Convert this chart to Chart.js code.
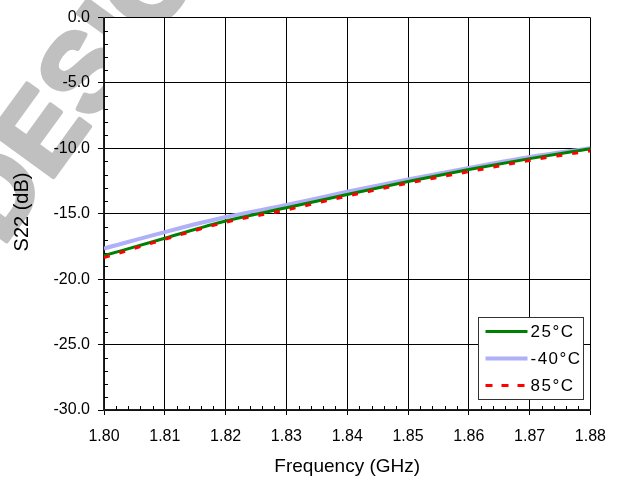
<!DOCTYPE html>
<html>
<head>
<meta charset="utf-8">
<script src="https://cdn.jsdelivr.net/npm/chart.js@4.4.1/dist/chart.umd.min.js"></script>
<style>
html,body{margin:0;padding:0;background:#fff;}
#wrap{position:relative;width:618px;height:479px;}
</style>
</head>
<body>
<div id="wrap"><canvas id="c" width="618" height="479"></canvas></div>
<script>
const freqGHz = [1.80, 1.81, 1.82, 1.83, 1.84, 1.85, 1.86, 1.87, 1.88];
const s22_25C = [-18.2, -16.87, -15.55, -14.54, -13.52, -12.53, -11.62, -10.78, -10.02];
const s22_m40C = [-17.65, -16.4, -15.25, -14.33, -13.32, -12.38, -11.5, -10.66, -9.98];
const s22_85C = [-18.35, -16.95, -15.65, -14.7, -13.65, -12.66, -11.78, -10.92, -10.18];
const seriesLabels = ['25°C', '-40°C', '85°C'];
const xTitle = 'Frequency (GHz)';
const yTitle = 'S22 (dB)';
const watermarkText = 'DESIGN';

const FONT = '"Liberation Sans", Arial, sans-serif';

function pts(ys){ return freqGHz.map((x,i)=>({x:x, y:ys[i]})); }

const bgPlugin = {
  id:'bg',
  beforeDraw(chart){
    const ctx = chart.ctx, a = chart.chartArea;
    ctx.save();
    ctx.fillStyle = '#fff';
    ctx.fillRect(0,0,chart.width,chart.height);
    // watermark
    ctx.translate(46,135);
    ctx.rotate(-54*Math.PI/180);
    ctx.fillStyle = '#c0c0c0';
    ctx.strokeStyle = '#c0c0c0';
    ctx.lineWidth = 5;
    ctx.lineJoin = 'round';
    ctx.font = 'bold 110px ' + FONT;
    ctx.textBaseline = 'middle';
    ctx.textAlign = 'left';
    ctx.fillText(watermarkText, -116, 0);
    ctx.strokeText(watermarkText, -116, 0);
    ctx.restore();
    ctx.save();
    ctx.fillStyle = '#fff';
    ctx.fillRect(a.left, a.top, a.right-a.left, a.bottom-a.top);
    ctx.restore();
  },
  beforeDatasetsDraw(chart){
    const ctx = chart.ctx, a = chart.chartArea;
    const xs = chart.scales.x, ys = chart.scales.y;
    ctx.save();
    ctx.strokeStyle = '#000';
    ctx.lineWidth = 1;
    ctx.beginPath();
    for (let k=-30; k<=0; k++){
      if (k % 5 === 0) continue;
      const y = Math.round(ys.getPixelForValue(k)) + 0.5;
      ctx.moveTo(a.left, y); ctx.lineTo(a.left+4, y);
    }
    for (let k=0; k<=40; k++){
      if (k % 5 === 0) continue;
      const x = Math.round(xs.getPixelForValue(1.80 + k*0.002)) + 0.5;
      ctx.moveTo(x, a.bottom); ctx.lineTo(x, a.bottom-4);
    }
    ctx.stroke();
    ctx.restore();
  },
  afterDraw(chart){
    const ctx = chart.ctx, a = chart.chartArea;
    ctx.save();
    // axis titles
    ctx.fillStyle = '#000';
    ctx.font = '19px ' + FONT;
    ctx.textAlign = 'center';
    ctx.textBaseline = 'middle';
    ctx.fillText(xTitle, (a.left+a.right)/2, 467);
    ctx.save();
    ctx.translate(22, 212);
    ctx.rotate(-Math.PI/2);
    ctx.font = '20px ' + FONT;
    ctx.fillText(yTitle, 0, 0);
    ctx.restore();
    // legend
    const w = 105, h = 82;
    const L = Math.round(a.right - 7 - w) + 0.5, T = Math.round(a.bottom - 11 - h) + 0.5;
    ctx.fillStyle = '#fff';
    ctx.fillRect(L, T, w, h);
    ctx.strokeStyle = '#333';
    ctx.lineWidth = 1;
    ctx.strokeRect(L, T, w, h);
    [0,1,2].forEach((di, r) => {
      const ds = chart.data.datasets[di];
      const y = T + 14 + r*27;
      ctx.save();
      ctx.strokeStyle = ds.borderColor;
      ctx.lineWidth = ds.borderWidth;
      ctx.setLineDash(ds.borderDash ? [7,9] : []);
      ctx.beginPath();
      ctx.moveTo(L+7, y); ctx.lineTo(L+49, y);
      ctx.stroke();
      ctx.restore();
      ctx.save();
      ctx.fillStyle = '#000';
      ctx.font = '17px ' + FONT;
      ctx.letterSpacing = '1.5px';
      ctx.textAlign = 'left';
      ctx.textBaseline = 'middle';
      ctx.fillText(ds.label, L+52, y+1);
      ctx.restore();
    });
    ctx.restore();
  }
};

new Chart(document.getElementById('c'), {
  type: 'line',
  data: {
    datasets: [
      { label: seriesLabels[0], data: pts(s22_25C), borderColor:'#008000', borderWidth:3, pointRadius:0, cubicInterpolationMode:'monotone', order:1 },
      { label: seriesLabels[1], data: pts(s22_m40C), borderColor:'#b0b0f8', borderWidth:4, pointRadius:0, cubicInterpolationMode:'monotone', order:2 },
      { label: seriesLabels[2], data: pts(s22_85C), borderColor:'#ff0000', borderWidth:3, borderDash:[6,10], pointRadius:0, cubicInterpolationMode:'monotone', order:0 }
    ]
  },
  options: {
    responsive:false,
    animation:false,
    events:[],
    layout:{ padding:{ left:0, top:15, right:27, bottom:0 } },
    plugins:{ legend:{display:false}, tooltip:{enabled:false} },
    scales:{
      x:{
        type:'linear', min:1.80, max:1.88,
        afterFit(s){ s.height = 69; },
        ticks:{ stepSize:0.01, color:'#000', padding:12, maxRotation:0, autoSkip:false,
          font:{ family:FONT, size:16 },
          callback:(v)=>Number(v).toFixed(2) },
        grid:{ color:'#000', lineWidth:1, tickLength:5, drawOnChartArea:true },
        border:{ color:'#222', width:1.5 }
      },
      y:{
        type:'linear', min:-30, max:0,
        afterFit(s){ s.width = 104; },
        ticks:{ stepSize:5, color:'#000', padding:8, autoSkip:false,
          font:{ family:FONT, size:16 },
          callback:(v)=>Number(v).toFixed(1) },
        grid:{ color:'#000', lineWidth:1, tickLength:6 },
        border:{ color:'#222', width:1.5 }
      }
    }
  },
  plugins:[bgPlugin]
});
</script>
</body>
</html>
